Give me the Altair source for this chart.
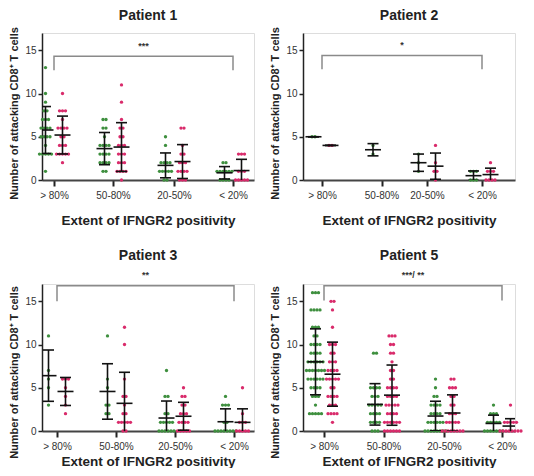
import altair as alt
import pandas as pd
from collections import Counter, defaultdict

# ---------------- data ----------------
categories = ["> 80%", "50-80%", "20-50%", "< 20%"]
groups = ["green", "magenta"]
patients = ["Patient 1", "Patient 2", "Patient 3", "Patient 5"]

# values per category (> 80%, 50-80%, 20-50%, < 20%)
p1_green = [
    [13, 10, 9, 8, 8, 7, 7, 7, 6, 6, 6, 6, 5, 5, 5, 5, 4, 3, 3, 3, 3, 3, 1],
    [7, 7, 6, 6, 5, 4, 4, 4, 4, 3, 3, 3, 3, 2, 2, 2, 2, 1, 1],
    [5, 4, 2, 2, 2, 2, 1, 1, 1, 1, 1, 0, 0],
    [2, 2, 1, 1, 1, 1, 1, 1, 0, 0, 0, 0],
]
p1_magenta = [
    [10, 8, 8, 8, 7, 6, 6, 6, 6, 5, 5, 4, 4, 4, 3, 3, 3, 3, 3, 2],
    [11, 9, 7, 6, 6, 5, 5, 4, 4, 4, 3, 3, 3, 2, 2, 2, 1, 1, 1, 1, 0],
    [6, 6, 4, 3, 3, 2, 2, 2, 1, 1, 1, 1, 0, 0, 0],
    [3, 3, 3, 1, 1, 1, 0, 0, 0, 0, 0],
]
p2_green = [
    [5, 5],
    [3, 4],
    [1, 2, 3],
    [1, 1, 1, 0, 0, 0],
]
p2_magenta = [
    [4, 4],
    [],
    [4, 2, 1, 1, 0],
    [2, 1, 1, 1, 0, 0, 0, 0],
]
p3_green = [
    [11, 7, 6, 5, 3],
    [11, 6, 5, 3, 3, 2, 2],
    [7, 4, 4, 2, 2, 1, 1, 1, 1, 1, 0, 0, 0, 0, 0, 0],
    [4, 3, 3, 3, 1, 1, 0, 0, 0, 0, 0, 0, 0, 0],
]
p3_magenta = [
    [6, 6, 6, 5, 4, 3, 2],
    [12, 10, 6, 4, 4, 3, 2, 2, 1, 1, 1, 1, 1, 0, 0],
    [5, 4, 4, 3, 3, 2, 2, 2, 1, 1, 1, 1, 0, 0, 0, 0, 0],
    [5, 2, 1, 1, 1, 0, 0, 0, 0, 0],
]
p5_green = [
    [16, 16, 16, 14, 14, 14, 14, 12, 12, 12, 11, 11, 10, 10, 10, 10, 9, 9, 9, 9,
     8, 8, 8, 8, 8, 8, 7, 7, 7, 7, 7, 7, 7, 6, 6, 6, 6, 6, 6, 5, 5, 5, 5,
     4, 4, 4, 3, 2, 2, 2, 2, 2],
    [9, 9, 5, 5, 5, 5, 4, 4, 4, 3, 3, 3, 3, 3, 2, 2, 2, 2, 1, 1, 1, 1, 0, 0, 0],
    [6, 5, 4, 4, 3, 3, 3, 3, 2, 2, 2, 2, 1, 1, 1, 1, 1, 1, 0, 0, 0, 0, 0, 0, 0, 0],
    [3, 2, 2, 2, 1, 1, 1, 1, 1, 0, 0, 0, 0, 0, 0, 0],
]
p5_magenta = [
    [15, 15, 14, 12, 10, 10, 10, 9, 9, 8, 8, 8, 7, 7, 7, 7, 6, 6, 6, 6, 6,
     5, 5, 4, 4, 4, 4, 3, 3, 3, 2, 2, 2, 2, 1],
    [11, 11, 11, 10, 10, 9, 9, 8, 7, 7, 6, 6, 5, 5, 5, 5, 4, 4, 4, 4,
     3, 3, 3, 3, 3, 2, 2, 2, 2, 1, 1, 1, 1, 1, 1, 0, 0, 0, 0, 0, 0],
    [6, 6, 5, 5, 5, 4, 4, 3, 3, 2, 2, 2, 1, 1, 1, 1, 1, 0, 0, 0, 0, 0, 0, 0, 0],
    [3, 1, 1, 1, 1, 1, 0, 0, 0, 0, 0, 0, 0, 0],
]
series = {
    "Patient 1": {"green": p1_green, "magenta": p1_magenta},
    "Patient 2": {"green": p2_green, "magenta": p2_magenta},
    "Patient 3": {"green": p3_green, "magenta": p3_magenta},
    "Patient 5": {"green": p5_green, "magenta": p5_magenta},
}
sig_labels = ["***", "*", "**", "***/ **"]
bracket_top = [14.3, 14.4, 16.8, 16.8]
bracket_drop = [12.7, 12.8, 15.0, 15.1]
sig_label_y = [15.5, 15.6, 18.0, 18.0]

# ---------------- layout / style ----------------
W, H = 212, 147
# category slot centres along each panel's x axis (axis runs 0..W)
cat_pos = [
    [12, 71, 132, 191],
    [19, 78.5, 124, 179],
    [15, 74, 133, 192],
    [21, 80.5, 141, 199],
]
grp_off = {"green": -8.5, "magenta": 8.5}
dot_step = 3.0
cap_half, mean_half = 5.5, 8.0
colors = ["#3e8f3e", "#d92b6b"]
FONT = "Liberation Sans"
row_cfg = [  # title offset, x titlePadding, y titleY
    dict(toff=4, xtp=13, ty=80),
    dict(toff=4, xtp=13, ty=80),
    dict(toff=8, xtp=3, ty=88),
    dict(toff=8, xtp=3, ty=88),
]


def make_panel(i):
    name = patients[i]
    pos = cat_pos[i]
    rows = []
    for ci, cat in enumerate(categories):
        for g in groups:
            vals = series[name][g][ci]
            base = pos[ci] + grp_off[g]
            cnt = Counter(vals)
            seen = defaultdict(int)
            for v in vals:
                k = seen[v]
                seen[v] += 1
                rows.append(dict(cat=cat, grp=g, value=v, base=base,
                                 xpos=base + (k - (cnt[v] - 1) / 2) * dot_step))
    df = pd.DataFrame(rows)

    mids = [(pos[j] + pos[j + 1]) / 2 for j in range(3)]
    lab_expr = (f"datum.value < {mids[0]} ? '{categories[0]}' : "
                f"datum.value < {mids[1]} ? '{categories[1]}' : "
                f"datum.value < {mids[2]} ? '{categories[2]}' : '{categories[3]}'")
    cfg = row_cfg[i]
    xaxis = alt.Axis(values=pos, labelExpr=lab_expr, title="Extent of IFNGR2 positivity",
                     tickSize=6, tickWidth=2, tickColor="#222", domainColor="#444",
                     domainWidth=2, labelFontSize=10, labelColor="#333", labelPadding=4,
                     titleFontSize=13.5, titleFontWeight="bold", titleColor="#222",
                     titlePadding=cfg["xtp"], grid=False, labelFont=FONT, titleFont=FONT)
    yaxis = alt.Axis(values=[0, 5, 10, 15], title="Number of attacking CD8\u207a T cells",
                     tickSize=4, tickWidth=1.5, tickColor="#222", domainColor="#222",
                     domainWidth=1.5, labelFontSize=10, labelColor="#333", labelPadding=2,
                     titleFontSize=11, titleFontWeight="bold", titleColor="#222",
                     titlePadding=5, titleY=cfg["ty"], grid=False, labelFont=FONT,
                     titleFont=FONT)
    xs = alt.Scale(domain=[0, W], nice=False, zero=False)
    ys = alt.Scale(domain=[0, 17], nice=False)

    def X(f):
        return alt.X(f, type="quantitative", scale=xs, axis=xaxis)

    def Y(f):
        return alt.Y(f, type="quantitative", scale=ys, axis=yaxis)

    pts = alt.Chart(df).mark_circle(size=11, opacity=1).encode(
        x=X("xpos"), y=Y("value"),
        color=alt.Color("grp:N", scale=alt.Scale(domain=groups, range=colors), legend=None),
    )
    stats = alt.Chart(df).transform_aggregate(
        mean="mean(value)", sd="stdev(value)", groupby=["cat", "grp", "base"]
    ).transform_calculate(
        hi="datum.mean + (datum.sd || 0)",
        lo="datum.mean - (datum.sd || 0)",
        cl=f"datum.base - {cap_half}", cr=f"datum.base + {cap_half}",
        ml=f"datum.base - {mean_half}", mr=f"datum.base + {mean_half}",
    )
    ebar = dict(color="#111", strokeWidth=1.6, clip=True)
    vline = stats.mark_rule(**ebar).encode(x=X("base"), y=Y("lo"), y2="hi:Q")
    capt = stats.mark_rule(**ebar).encode(x=X("cl"), x2="cr:Q", y=Y("hi"))
    capb = stats.mark_rule(**ebar).encode(x=X("cl"), x2="cr:Q", y=Y("lo"))
    mline = stats.mark_rule(**ebar).encode(x=X("ml"), x2="mr:Q", y=Y("mean"))

    bdf = pd.DataFrame({
        "bx": [pos[0], pos[0], pos[3], pos[3]],
        "by": [bracket_drop[i], bracket_top[i], bracket_top[i], bracket_drop[i]],
        "o": [0, 1, 2, 3],
    })
    br = alt.Chart(bdf).mark_line(color="#8a8a8a", strokeWidth=1.5).encode(
        x=X("bx"), y=Y("by"), order="o:Q")
    tdf = pd.DataFrame({"tx": [(pos[0] + pos[3]) / 2], "ty": [sig_label_y[i]],
                        "t": [sig_labels[i]]})
    tx = alt.Chart(tdf).mark_text(fontSize=9, font=FONT, color="#333", fontWeight="bold").encode(
        x=X("tx"), y=Y("ty"), text="t:N")

    return alt.layer(pts, vline, capt, capb, mline, br, tx).properties(
        width=W, height=H,
        title=alt.TitleParams(text=name, fontSize=14, font=FONT, fontWeight="bold",
                              color="#222", offset=cfg["toff"], anchor="middle"),
    )


chart = alt.concat(*[make_panel(i) for i in range(4)], columns=2,
                   spacing={"row": 21, "column": 14}).properties(
    padding={"left": 0, "top": 0, "right": 0, "bottom": 0}
).configure_view(stroke=None).configure(font=FONT)

chart.save("out.html", embed_options={"renderer": "svg", "actions": False})
